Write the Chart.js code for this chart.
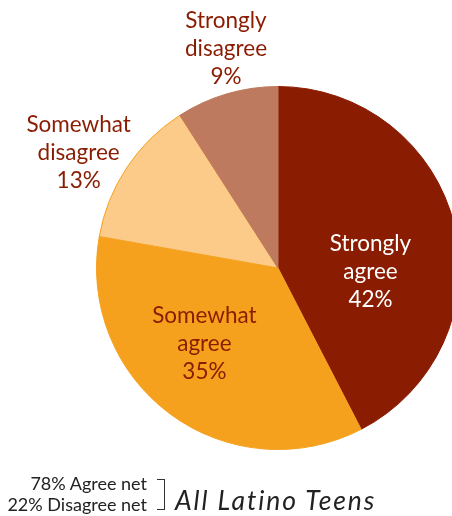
<!DOCTYPE html>
<html>
<head>
<meta charset="utf-8">
<script src="https://cdn.jsdelivr.net/npm/chart.js@4"></script>
<style>
  html, body { margin: 0; padding: 0; background: #fff; overflow: hidden; }
  body { width: 452px; height: 516px; position: relative; }
  #pie { position: absolute; left: 0; top: 0; }
  .net { position: absolute; right: 305px; top: 473px; font: 18px Lato, sans-serif; line-height: 21px; color: #222; text-align: right; white-space: nowrap; }
  .bracket { position: absolute; left: 157px; top: 479px; width: 7px; height: 29px; border: 1.3px solid #333; border-left: none; }
  .group { position: absolute; left: 175px; top: 485px; font: italic 26.5px Lato, sans-serif; line-height: 1.2; letter-spacing: 1.9px; color: #222; white-space: nowrap; }
</style>
</head>
<body>
<canvas id="pie" width="560" height="516"></canvas>
<div class="net">78% Agree net<br>22% Disagree net</div>
<div class="bracket"></div>
<div class="group">All Latino Teens</div>
<script>
  var categories = [["Strongly", "agree"], ["Somewhat", "agree"], ["Somewhat", "disagree"], ["Strongly", "disagree"]];
  var shares = [42, 35, 13, 9];

  var colors = ["#8a1c02", "#f5a11e", "#fccb89", "#bd7a5e"];
  var borderColors = ["#8a1c02", "#f5a11e", "#f5a11e", "#bd7a5e"];
  var labelColors = ["#ffffff", "#8a1c02", "#8a1c02", "#8a1c02"];
  // radius factor and angle nudge (degrees) for each label
  var labelSpot = [[0.51, 16], [0.58, 8], [1.27, -3.5], [1.24, 3]];

  var sliceLabels = {
    id: "sliceLabels",
    afterDatasetsDraw: function (chart) {
      var ctx = chart.ctx;
      var arcs = chart.getDatasetMeta(0).data;
      ctx.save();
      ctx.font = "22.5px Lato, sans-serif";
      ctx.textAlign = "center";
      ctx.textBaseline = "middle";
      arcs.forEach(function (arc, i) {
        var mid = (arc.startAngle + arc.endAngle) / 2 + labelSpot[i][1] * Math.PI / 180;
        var r = arc.outerRadius * labelSpot[i][0];
        var x = arc.x + Math.cos(mid) * r;
        var y = arc.y + Math.sin(mid) * r;
        var lines = categories[i].concat([shares[i] + "%"]);
        ctx.fillStyle = labelColors[i];
        lines.forEach(function (t, k) {
          ctx.fillText(t, x, y + (k - 1) * 28);
        });
      });
      ctx.restore();
    }
  };

  new Chart(document.getElementById("pie"), {
    type: "pie",
    data: {
      labels: categories.map(function (c) { return c.join(" "); }),
      datasets: [{
        data: shares,
        backgroundColor: colors,
        borderColor: borderColors,
        borderWidth: 1
      }]
    },
    options: {
      responsive: false,
      animation: false,
      layout: { padding: { left: 96, right: 100, top: 86, bottom: 66 } },
      plugins: { legend: { display: false }, tooltip: { enabled: false } }
    },
    plugins: [sliceLabels]
  });
</script>
</body>
</html>
